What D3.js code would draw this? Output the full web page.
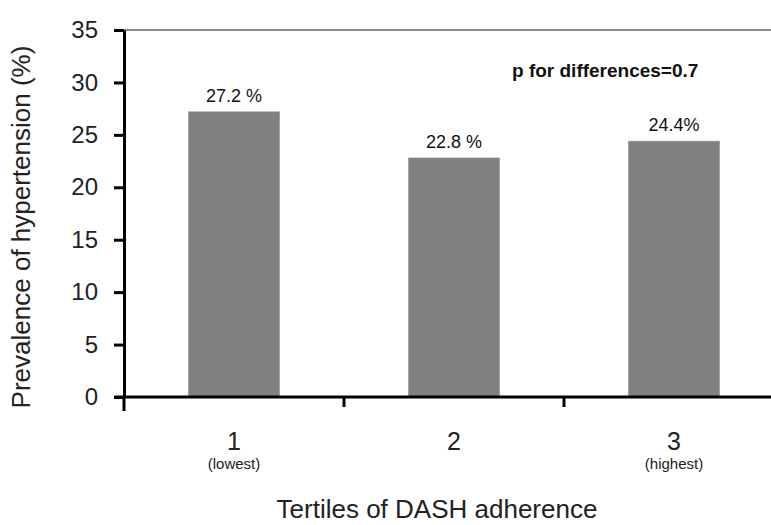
<!DOCTYPE html>
<html>
<head>
<meta charset="utf-8">
<script src="https://d3js.org/d3.v7.min.js"></script>
<style>
  body { margin: 0; background: #fff; }
  svg { font-family: "Liberation Sans", Arial, sans-serif; }
</style>
</head>
<body>
<div id="chart"></div>
<script>
const categories = ["1", "2", "3"];
const subLabels = ["(lowest)", "", "(highest)"];
const values = [27.2, 22.8, 24.4];
const valueLabels = ["27.2 %", "22.8 %", "24.4%"];
const yTicks = [0, 5, 10, 15, 20, 25, 30, 35];

const margin = { top: 30, right: -13, bottom: 128, left: 124 },
  width = 771 - margin.left - margin.right,
  height = 525 - margin.top - margin.bottom;

const svg = d3
  .select("#chart")
  .append("svg")
  .attr("width", 771)
  .attr("height", 525)
  .append("g")
  .attr("transform", "translate(" + margin.left + "," + margin.top + ")");

const x = d3.scaleBand().domain(categories).range([0, width]).padding(0);
const y = d3.scaleLinear().domain([0, 35]).range([height, 0]);
const barW = x.bandwidth() * 0.415;

// top frame line
svg
  .append("line")
  .attr("x1", 0)
  .attr("x2", width)
  .attr("y1", 0)
  .attr("y2", 0)
  .attr("stroke", "#8c8c8c")
  .attr("stroke-width", 2);

// bars
svg
  .selectAll("rect.bar")
  .data(values)
  .enter()
  .append("rect")
  .attr("class", "bar")
  .attr("x", (d, i) => x(categories[i]) + x.bandwidth() / 2 - barW / 2)
  .attr("y", (d) => y(d))
  .attr("width", barW)
  .attr("height", (d) => height - y(d))
  .attr("fill", "#808080")
  .attr("stroke", "#9a9a9a")
  .attr("stroke-width", 0.6);

// value labels
svg
  .selectAll("text.val")
  .data(values)
  .enter()
  .append("text")
  .attr("class", "val")
  .attr("x", (d, i) => x(categories[i]) + x.bandwidth() / 2)
  .attr("y", (d) => y(d) - 10)
  .attr("text-anchor", "middle")
  .attr("font-size", 18)
  .attr("fill", "#111")
  .text((d, i) => valueLabels[i]);

// y axis
const yAxis = svg
  .append("g")
  .call(d3.axisLeft(y).tickValues(yTicks).tickSize(10).tickSizeOuter(0));
yAxis.select(".domain").attr("stroke", "#000").attr("stroke-width", 3);
yAxis.selectAll(".tick line").attr("stroke", "#000").attr("stroke-width", 3);
yAxis
  .selectAll(".tick text")
  .attr("font-size", 24)
  .attr("fill", "#222")
  .attr("x", -26)
  .attr("font-family", "Liberation Sans, Arial, sans-serif");

// x axis
const xAxis = svg
  .append("g")
  .attr("transform", "translate(0," + height + ")")
  .call(d3.axisBottom(x).tickValues([]).tickSizeOuter(0));
xAxis.select(".domain").attr("stroke", "#000").attr("stroke-width", 3)
  .attr("d", "M-10,0H" + width);
const boundaries = [0, x.step(), 2 * x.step()];
xAxis
  .selectAll("line.bnd")
  .data(boundaries)
  .enter()
  .append("line")
  .attr("x1", (d) => d)
  .attr("x2", (d) => d)
  .attr("y1", 0)
  .attr("y2", (d, i) => (i === 0 ? 14 : 10))
  .attr("stroke", "#000")
  .attr("stroke-width", 3);

// category labels
svg
  .selectAll("text.cat")
  .data(categories)
  .enter()
  .append("text")
  .attr("class", "cat")
  .attr("x", (d) => x(d) + x.bandwidth() / 2)
  .attr("y", height + 53)
  .attr("text-anchor", "middle")
  .attr("font-size", 25)
  .attr("fill", "#222")
  .text((d) => d);

svg
  .selectAll("text.sub")
  .data(subLabels)
  .enter()
  .append("text")
  .attr("class", "sub")
  .attr("x", (d, i) => x(categories[i]) + x.bandwidth() / 2)
  .attr("y", height + 72)
  .attr("text-anchor", "middle")
  .attr("font-size", 15)
  .attr("fill", "#222")
  .text((d) => d);

// axis titles
svg
  .append("text")
  .attr("x", 437 - margin.left)
  .attr("y", height + 121)
  .attr("text-anchor", "middle")
  .attr("font-size", 26)
  .attr("fill", "#222")
  .text("Tertiles of DASH adherence");

svg
  .append("text")
  .attr("transform", "translate(" + (30 - margin.left) + "," + (227 - margin.top) + ") rotate(-90)")
  .attr("text-anchor", "middle")
  .attr("font-size", 26)
  .attr("fill", "#222")
  .text("Prevalence of hypertension (%)");

// annotation
svg
  .append("text")
  .attr("x", 512 - margin.left)
  .attr("y", 77 - margin.top)
  .attr("font-size", 19)
  .attr("font-weight", "bold")
  .attr("fill", "#111")
  .text("p for differences=0.7");
</script>
</body>
</html>
